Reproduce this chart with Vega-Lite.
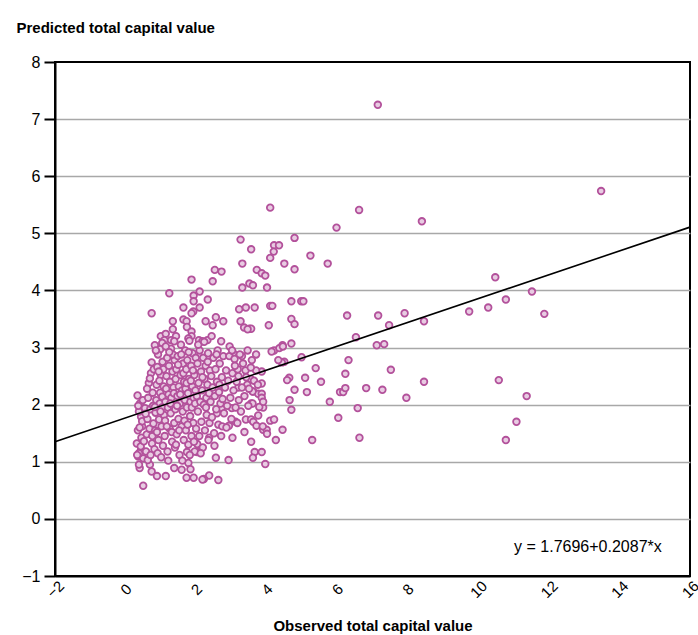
{
  "$schema": "https://vega.github.io/schema/vega-lite/v6.json",
  "width": 635,
  "height": 514,
  "autosize": "none",
  "padding": {"left": 55, "top": 62, "right": 8, "bottom": 59},
  "config": {
    "font": "Liberation Sans, Arial, sans-serif",
    "view": {"stroke": "black", "strokeWidth": 2},
    "axis": {"labelFont": "Liberation Sans, Arial, sans-serif", "titleFont": "Liberation Sans, Arial, sans-serif", "labelFontSize": 16, "labelColor": "black", "titleColor": "black", "titleFontSize": 15, "titleFontWeight": "bold"}
  },
  "layer": [
    {
      "data": {"values": [
        {"x":7.15,"y":7.25},{"x":13.48,"y":5.74},{"x":8.40,"y":5.21},{"x":6.62,"y":5.41},{"x":5.98,"y":5.10},{"x":4.10,"y":5.45},{"x":4.79,"y":4.92},{"x":3.26,"y":4.89},{"x":4.21,"y":4.79},{"x":4.35,"y":4.79},{"x":4.20,"y":4.68},{"x":4.10,"y":4.57},{"x":3.56,"y":4.72},{"x":5.24,"y":4.61},{"x":5.73,"y":4.47},{"x":4.50,"y":4.47},{"x":3.31,"y":4.47},{"x":4.79,"y":4.37},{"x":2.53,"y":4.36},{"x":2.72,"y":4.33},{"x":3.72,"y":4.36},{"x":3.86,"y":4.30},{"x":3.96,"y":4.26},{"x":2.47,"y":4.16},{"x":1.87,"y":4.19},{"x":3.51,"y":4.12},{"x":3.61,"y":4.09},{"x":3.31,"y":4.05},{"x":4.01,"y":4.05},{"x":2.10,"y":3.98},{"x":1.24,"y":3.95},{"x":1.93,"y":3.91},{"x":1.93,"y":3.81},{"x":2.33,"y":3.84},{"x":4.70,"y":3.81},{"x":4.98,"y":3.81},{"x":5.04,"y":3.81},{"x":2.10,"y":3.70},{"x":1.64,"y":3.70},{"x":1.92,"y":3.63},{"x":1.87,"y":3.60},{"x":0.74,"y":3.60},{"x":3.22,"y":3.67},{"x":3.41,"y":3.70},{"x":3.66,"y":3.70},{"x":4.10,"y":3.73},{"x":4.16,"y":3.73},{"x":4.70,"y":3.50},{"x":4.79,"y":3.41},{"x":6.28,"y":3.56},{"x":7.16,"y":3.56},{"x":7.91,"y":3.60},{"x":7.47,"y":3.39},{"x":8.46,"y":3.46},{"x":9.74,"y":3.63},{"x":10.48,"y":4.23},{"x":11.52,"y":3.98},{"x":10.78,"y":3.84},{"x":10.28,"y":3.70},{"x":11.87,"y":3.59},{"x":10.58,"y":2.43},{"x":11.37,"y":2.15},{"x":11.08,"y":1.70},{"x":10.78,"y":1.38},{"x":6.53,"y":3.18},{"x":7.12,"y":3.04},{"x":7.33,"y":3.06},{"x":4.70,"y":3.07},{"x":4.45,"y":3.04},{"x":4.50,"y":2.75},{"x":4.99,"y":2.83},{"x":5.39,"y":2.64},{"x":6.32,"y":2.78},{"x":7.52,"y":2.61},{"x":6.23,"y":2.54},{"x":4.64,"y":2.47},{"x":4.58,"y":2.43},{"x":5.09,"y":2.47},{"x":5.54,"y":2.40},{"x":8.46,"y":2.40},{"x":4.79,"y":2.26},{"x":5.14,"y":2.22},{"x":6.08,"y":2.22},{"x":6.17,"y":2.22},{"x":6.23,"y":2.29},{"x":6.82,"y":2.29},{"x":7.28,"y":2.26},{"x":7.96,"y":2.12},{"x":4.65,"y":2.08},{"x":4.70,"y":1.91},{"x":5.79,"y":2.05},{"x":6.58,"y":1.94},{"x":6.03,"y":1.77},{"x":4.45,"y":1.56},{"x":5.29,"y":1.38},{"x":6.63,"y":1.42},
        {"x":2.27,"y":3.46},{"x":2.47,"y":3.39},{"x":2.56,"y":3.53},{"x":2.77,"y":3.46},{"x":3.26,"y":3.46},{"x":3.36,"y":3.35},{"x":3.51,"y":3.33},{"x":3.56,"y":3.33},{"x":4.06,"y":3.39},{"x":1.34,"y":3.46},{"x":1.64,"y":3.49},{"x":1.73,"y":3.46},{"x":1.74,"y":3.36},{"x":3.46,"y":3.32},{"x":1.34,"y":3.32},{"x":1.00,"y":3.20},{"x":1.14,"y":3.24},{"x":1.43,"y":3.20},{"x":1.87,"y":3.28},{"x":1.87,"y":3.20},{"x":1.78,"y":3.16},{"x":1.10,"y":3.13},{"x":1.29,"y":3.13},{"x":1.38,"y":3.11},{"x":1.04,"y":3.08},{"x":0.83,"y":3.04},{"x":0.98,"y":2.97},{"x":2.08,"y":3.13},{"x":2.18,"y":3.11},{"x":2.32,"y":3.13},{"x":2.71,"y":3.11},{"x":4.21,"y":2.95},{"x":4.36,"y":2.99},{"x":4.46,"y":3.02},{"x":3.86,"y":2.58},{"x":3.86,"y":2.37},{"x":3.62,"y":2.23},{"x":3.76,"y":2.19},{"x":3.86,"y":2.19},{"x":3.86,"y":2.12},{"x":3.90,"y":1.95},{"x":3.76,"y":1.81},{"x":3.56,"y":2.02},{"x":3.41,"y":1.74},{"x":3.56,"y":1.74},{"x":3.62,"y":1.70},{"x":3.12,"y":1.70},{"x":3.17,"y":1.68},{"x":2.93,"y":1.63},{"x":3.37,"y":1.52},{"x":3.71,"y":1.63},{"x":3.90,"y":1.56},{"x":4.00,"y":1.56},{"x":4.01,"y":1.49},{"x":4.10,"y":1.72},{"x":4.21,"y":1.74},{"x":4.26,"y":1.38},{"x":3.03,"y":1.42},{"x":3.56,"y":1.35},{"x":3.66,"y":1.17},{"x":3.61,"y":1.07},{"x":3.96,"y":0.96},{"x":2.56,"y":1.07},{"x":2.92,"y":1.03},{"x":2.37,"y":0.76},{"x":2.22,"y":0.70},{"x":2.63,"y":0.68},{"x":2.37,"y":1.42},{"x":0.50,"y":0.58},{"x":0.40,"y":0.89},{"x":0.38,"y":0.95},{"x":0.69,"y":0.95},{"x":0.74,"y":0.83},{"x":0.89,"y":0.75},{"x":1.14,"y":0.75},{"x":1.38,"y":0.89},{"x":1.59,"y":0.86},{"x":1.78,"y":0.98},{"x":1.84,"y":0.87},{"x":1.73,"y":0.72},{"x":1.93,"y":0.72},{"x":2.18,"y":0.69},{"x":0.34,"y":2.16},{"x":0.36,"y":1.09},{"x":0.44,"y":1.21},{"x":0.50,"y":1.06},{"x":0.38,"y":1.15},{"x":0.44,"y":1.79},{"x":0.47,"y":1.62},{"x":1.74,"y":1.17},{"x":2.03,"y":1.31},{"x":2.03,"y":1.17},{"x":2.59,"y":1.85},{"x":2.72,"y":1.94},{"x":3.01,"y":1.94},{"x":3.86,"y":1.17},{"x":3.89,"y":1.62},{"x":3.79,"y":1.96},{"x":3.90,"y":2.05},{"x":3.60,"y":2.23},{"x":4.14,"y":2.93},{"x":4.43,"y":2.74},{"x":4.33,"y":2.78},{"x":3.05,"y":2.90},{"x":3.30,"y":2.85},{"x":3.40,"y":2.60},{"x":3.55,"y":2.45},{"x":3.70,"y":2.60},{"x":3.45,"y":2.35},{"x":3.20,"y":2.30},
        {"x":0.32,"y":1.32},{"x":0.35,"y":1.55},{"x":0.38,"y":1.88},{"x":0.41,"y":2.02},{"x":0.45,"y":1.42},{"x":0.47,"y":1.71},{"x":0.36,"y":1.98},{"x":0.43,"y":1.27},{"x":0.49,"y":2.08},{"x":0.33,"y":1.12},{"x":0.52,"y":1.36},{"x":0.55,"y":1.94},{"x":0.40,"y":1.60},
        {"x":0.58,"y":1.18},{"x":0.60,"y":1.48},{"x":0.62,"y":1.75},{"x":0.64,"y":2.12},{"x":0.66,"y":2.38},{"x":0.68,"y":1.58},{"x":0.70,"y":1.92},{"x":0.72,"y":2.55},{"x":0.75,"y":1.32},{"x":0.77,"y":2.21},{"x":0.79,"y":1.67},{"x":0.61,"y":2.28},{"x":0.63,"y":1.03},{"x":0.71,"y":1.12},{"x":0.74,"y":2.74},{"x":0.78,"y":1.98},{"x":0.57,"y":1.84},{"x":0.69,"y":2.46},{"x":0.76,"y":1.45},{"x":0.80,"y":2.62},
        {"x":0.82,"y":1.22},{"x":0.84,"y":1.55},{"x":0.85,"y":1.86},{"x":0.87,"y":2.08},{"x":0.88,"y":2.35},{"x":0.90,"y":2.66},{"x":0.92,"y":2.88},{"x":0.93,"y":1.38},{"x":0.95,"y":1.74},{"x":0.97,"y":2.02},{"x":0.98,"y":2.21},{"x":1.00,"y":2.52},{"x":1.02,"y":1.62},{"x":1.03,"y":1.95},{"x":1.05,"y":2.75},{"x":1.06,"y":1.28},{"x":1.08,"y":2.32},{"x":1.09,"y":1.82},{"x":0.86,"y":2.95},{"x":0.91,"y":1.15},{"x":0.96,"y":2.42},{"x":1.01,"y":1.08},{"x":1.04,"y":2.14},{"x":1.07,"y":2.62},{"x":0.83,"y":1.96},{"x":0.89,"y":1.52},{"x":0.94,"y":2.58},{"x":0.99,"y":1.88},
        {"x":1.11,"y":1.45},{"x":1.12,"y":1.72},{"x":1.13,"y":2.05},{"x":1.15,"y":2.28},{"x":1.16,"y":2.50},{"x":1.18,"y":2.82},{"x":1.19,"y":1.18},{"x":1.20,"y":1.95},{"x":1.22,"y":2.18},{"x":1.23,"y":2.68},{"x":1.25,"y":1.58},{"x":1.26,"y":2.40},{"x":1.28,"y":1.85},{"x":1.29,"y":2.98},{"x":1.30,"y":2.12},{"x":1.32,"y":1.35},{"x":1.33,"y":2.58},{"x":1.35,"y":1.98},{"x":1.36,"y":2.30},{"x":1.38,"y":1.68},{"x":1.39,"y":2.78},{"x":1.14,"y":3.02},{"x":1.21,"y":1.02},{"x":1.27,"y":2.02},{"x":1.31,"y":1.52},{"x":1.34,"y":2.88},{"x":1.37,"y":2.20},{"x":1.17,"y":1.62},{"x":1.24,"y":2.92},{"x":1.40,"y":1.25},
        {"x":1.41,"y":1.92},{"x":1.42,"y":2.45},{"x":1.44,"y":2.62},{"x":1.45,"y":1.48},{"x":1.47,"y":2.15},{"x":1.48,"y":2.85},{"x":1.50,"y":1.75},{"x":1.51,"y":2.32},{"x":1.53,"y":1.12},{"x":1.54,"y":2.02},{"x":1.56,"y":2.52},{"x":1.57,"y":3.05},{"x":1.59,"y":1.62},{"x":1.60,"y":2.25},{"x":1.62,"y":1.88},{"x":1.63,"y":2.72},{"x":1.65,"y":1.38},{"x":1.66,"y":2.40},{"x":1.68,"y":2.08},{"x":1.69,"y":2.95},{"x":1.43,"y":1.30},{"x":1.46,"y":1.98},{"x":1.49,"y":2.70},{"x":1.52,"y":1.55},{"x":1.55,"y":2.18},{"x":1.58,"y":2.88},{"x":1.61,"y":1.02},{"x":1.64,"y":2.55},{"x":1.67,"y":1.72},{"x":1.70,"y":2.28},
        {"x":1.71,"y":1.55},{"x":1.72,"y":2.62},{"x":1.74,"y":1.95},{"x":1.75,"y":2.78},{"x":1.77,"y":2.20},{"x":1.78,"y":1.30},{"x":1.80,"y":2.45},{"x":1.81,"y":3.12},{"x":1.83,"y":1.80},{"x":1.84,"y":2.05},{"x":1.86,"y":2.68},{"x":1.87,"y":1.45},{"x":1.89,"y":2.32},{"x":1.90,"y":2.90},{"x":1.92,"y":1.68},{"x":1.93,"y":2.12},{"x":1.95,"y":2.52},{"x":1.96,"y":1.18},{"x":1.98,"y":2.25},{"x":1.99,"y":2.82},{"x":1.73,"y":2.38},{"x":1.76,"y":1.65},{"x":1.79,"y":2.92},{"x":1.82,"y":1.12},{"x":1.85,"y":2.42},{"x":1.88,"y":1.95},{"x":1.91,"y":2.60},{"x":1.94,"y":1.35},{"x":1.97,"y":2.02},{"x":2.00,"y":1.58},
        {"x":2.02,"y":2.15},{"x":2.04,"y":2.72},{"x":2.05,"y":1.88},{"x":2.07,"y":2.38},{"x":2.09,"y":1.45},{"x":2.10,"y":2.95},{"x":2.12,"y":2.05},{"x":2.14,"y":2.58},{"x":2.15,"y":1.70},{"x":2.17,"y":2.25},{"x":2.19,"y":1.25},{"x":2.20,"y":2.82},{"x":2.22,"y":2.00},{"x":2.24,"y":2.45},{"x":2.25,"y":1.55},{"x":2.27,"y":2.68},{"x":2.29,"y":2.12},{"x":2.30,"y":1.82},{"x":2.32,"y":2.35},{"x":2.34,"y":2.90},{"x":2.35,"y":1.38},{"x":2.37,"y":2.20},{"x":2.39,"y":2.60},{"x":2.06,"y":3.05},{"x":2.13,"y":1.15},{"x":2.18,"y":2.48},{"x":2.23,"y":3.10},{"x":2.28,"y":1.95},{"x":2.33,"y":2.75},{"x":2.38,"y":1.68},
        {"x":2.41,"y":2.05},{"x":2.43,"y":2.50},{"x":2.45,"y":1.78},{"x":2.47,"y":2.30},{"x":2.49,"y":2.82},{"x":2.51,"y":1.50},{"x":2.53,"y":2.15},{"x":2.55,"y":2.62},{"x":2.57,"y":1.92},{"x":2.59,"y":2.40},{"x":2.61,"y":2.95},{"x":2.63,"y":1.65},{"x":2.65,"y":2.22},{"x":2.67,"y":2.72},{"x":2.69,"y":2.02},{"x":2.71,"y":1.45},{"x":2.73,"y":2.48},{"x":2.75,"y":2.10},{"x":2.77,"y":2.85},{"x":2.79,"y":1.85},{"x":2.44,"y":3.20},{"x":2.52,"y":1.28},{"x":2.58,"y":2.88},{"x":2.66,"y":2.35},{"x":2.74,"y":1.62},
        {"x":2.82,"y":2.30},{"x":2.85,"y":2.60},{"x":2.88,"y":1.98},{"x":2.91,"y":2.42},{"x":2.94,"y":2.85},{"x":2.97,"y":2.12},{"x":3.00,"y":1.75},{"x":3.03,"y":2.55},{"x":3.06,"y":2.25},{"x":3.09,"y":2.80},{"x":3.12,"y":1.95},{"x":3.15,"y":2.40},{"x":3.18,"y":2.62},{"x":3.21,"y":2.08},{"x":3.24,"y":2.88},{"x":3.27,"y":1.88},{"x":3.30,"y":2.30},{"x":2.86,"y":1.60},{"x":2.95,"y":3.02},{"x":3.02,"y":2.95},{"x":3.10,"y":2.68},{"x":3.20,"y":2.50},
        {"x":3.33,"y":2.72},{"x":3.37,"y":2.15},{"x":3.42,"y":2.48},{"x":3.46,"y":2.95},{"x":3.50,"y":2.28},{"x":3.55,"y":2.65},{"x":3.60,"y":2.02},{"x":3.64,"y":2.42},{"x":3.70,"y":2.88},{"x":3.75,"y":2.35},{"x":3.48,"y":1.98},{"x":3.58,"y":2.78}
      ]},
      "mark": {"type": "circle", "size": 44, "fill": "#e8cbe2", "stroke": "#b3519b", "strokeWidth": 1.8, "opacity": 1, "fillOpacity": 1},
      "encoding": {
        "x": {"field": "x", "type": "quantitative", "scale": {"domain": [-2, 16], "nice": false, "zero": false},
          "axis": {"title": "Observed total capital value", "values": [-2, 0, 2, 4, 6, 8, 10, 12, 14, 16], "format": "d", "ticks": false, "labelAngle": -45, "labelAlign": "center", "labelBaseline": "middle", "labelPadding": 13, "labelDx": -9, "labelFontSize": 15, "domainColor": "black", "domainWidth": 2, "grid": false, "titleY": 49, "titleBaseline": "middle", "labelFlush": false, "labelOverlap": false}},
        "y": {"field": "y", "type": "quantitative", "scale": {"domain": [-1, 8], "nice": false, "zero": false},
          "axis": {"title": "Predicted total capital value", "format": "d", "titleAngle": 0, "titleAlign": "left", "titleX": -39, "titleY": -35, "titleBaseline": "middle", "values": [-1, 0, 1, 2, 3, 4, 5, 6, 7, 8], "tickSize": 11, "tickWidth": 2, "tickColor": "black", "domainColor": "black", "domainWidth": 2, "labelPadding": 4, "grid": true, "gridColor": "#a8a8a8", "gridWidth": 1.5, "gridOpacity": {"condition": {"test": "datum.value == 8 || datum.value == -1", "value": 0}, "value": 1}, "labelFlush": false, "labelOverlap": false}}
      }
    },
    {
      "data": {"values": [{"x": -2, "y": 1.3522}, {"x": 16, "y": 5.1088}]},
      "mark": {"type": "line", "color": "black", "strokeWidth": 1.6},
      "encoding": {"x": {"field": "x", "type": "quantitative"}, "y": {"field": "y", "type": "quantitative"}}
    },
    {
      "data": {"values": [{"x": 15.2, "y": -0.5, "label": "y = 1.7696+0.2087*x"}]},
      "mark": {"type": "text", "align": "right", "baseline": "middle", "fontSize": 16, "color": "black"},
      "encoding": {"x": {"field": "x", "type": "quantitative"}, "y": {"field": "y", "type": "quantitative"}, "text": {"field": "label"}}
    }
  ]
}
